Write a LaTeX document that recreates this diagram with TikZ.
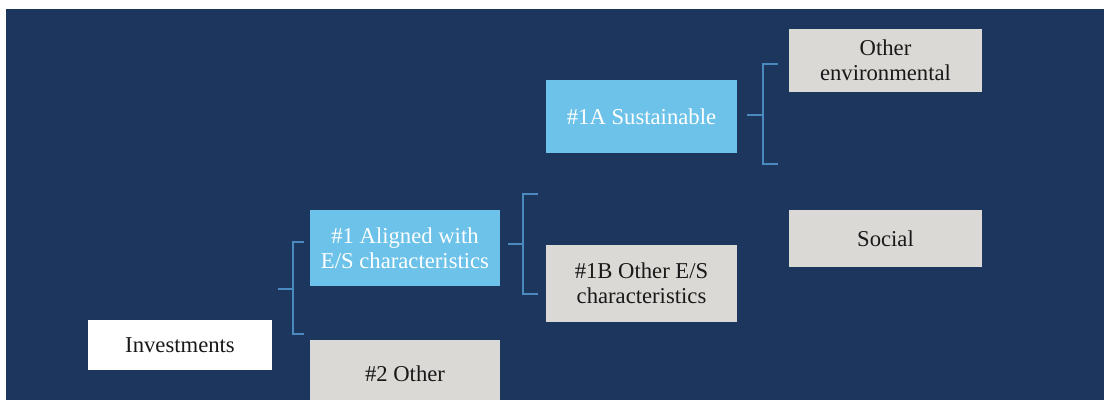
\documentclass[tikz,border=0pt]{standalone}
\usepackage{fontspec}
\setmainfont{Liberation Serif}
\begin{document}
\begin{tikzpicture}[x=0.75pt,y=-0.75pt,
    box/.style={inner sep=0pt,align=center,font=\fontsize{17}{19}\selectfont},
    skybox/.style={box,fill=skyBox,text=white},
    greybox/.style={box,fill=greyBox,text=black!90},
    bracket/.style={draw=bracketLine,line width=1.5pt}]
            \definecolor{navyBg}{RGB}{28,54,93}
            \definecolor{skyBox}{RGB}{108,194,233}
            \definecolor{greyBox}{RGB}{218,217,214}
            \definecolor{bracketLine}{RGB}{74,138,190}
            \useasboundingbox (0,0) rectangle (1104,400);
            \fill[navyBg] (6,9) rectangle (1104,400);
            \node[box,fill=white,text=black!90,minimum width=138pt,minimum height=37.5pt] (inv) at (180,345) {Investments};
            \node[skybox,minimum width=142.5pt,minimum height=57pt] (aligned) at (405,248) {\#1 Aligned with\\E/S characteristics};
            \node[greybox,minimum width=142.5pt,minimum height=51pt] (other) at (405,374) {\#2 Other};
            \node[skybox,minimum width=143.25pt,minimum height=54.75pt] (sust) at (641.5,116.5) {\#1A Sustainable};
            \node[greybox,minimum width=143.25pt,minimum height=57.75pt] (otheres) at (641.5,283.5) {\#1B Other E/S\\characteristics};
            \node[greybox,minimum width=144.75pt,minimum height=47.25pt] (env) at (885.5,60.5) {Other\\environmental};
            \node[greybox,minimum width=144.75pt,minimum height=42.75pt] (social) at (885.5,238.5) {Social};
            \coordinate (inv-stub) at (278,289);
            \coordinate (inv-top) at (304,242);
            \coordinate (inv-bot) at (304,334);
            \coordinate (aligned-stub) at (508,244);
            \coordinate (aligned-top) at (538,194);
            \coordinate (aligned-bot) at (538,294);
            \coordinate (sust-stub) at (747,115);
            \coordinate (sust-top) at (778,64);
            \coordinate (sust-bot) at (778,164);
            \draw[bracket] (inv-stub) -- ++(15,0);
            \draw[bracket] (inv-top) -- ++(-11,0) |- (inv-bot);
            \draw[bracket] (aligned-stub) -- ++(15,0);
            \draw[bracket] (aligned-top) -- ++(-15,0) |- (aligned-bot);
            \draw[bracket] (sust-stub) -- ++(16,0);
            \draw[bracket] (sust-top) -- ++(-15,0) |- (sust-bot);
        \end{tikzpicture}
\end{document}
